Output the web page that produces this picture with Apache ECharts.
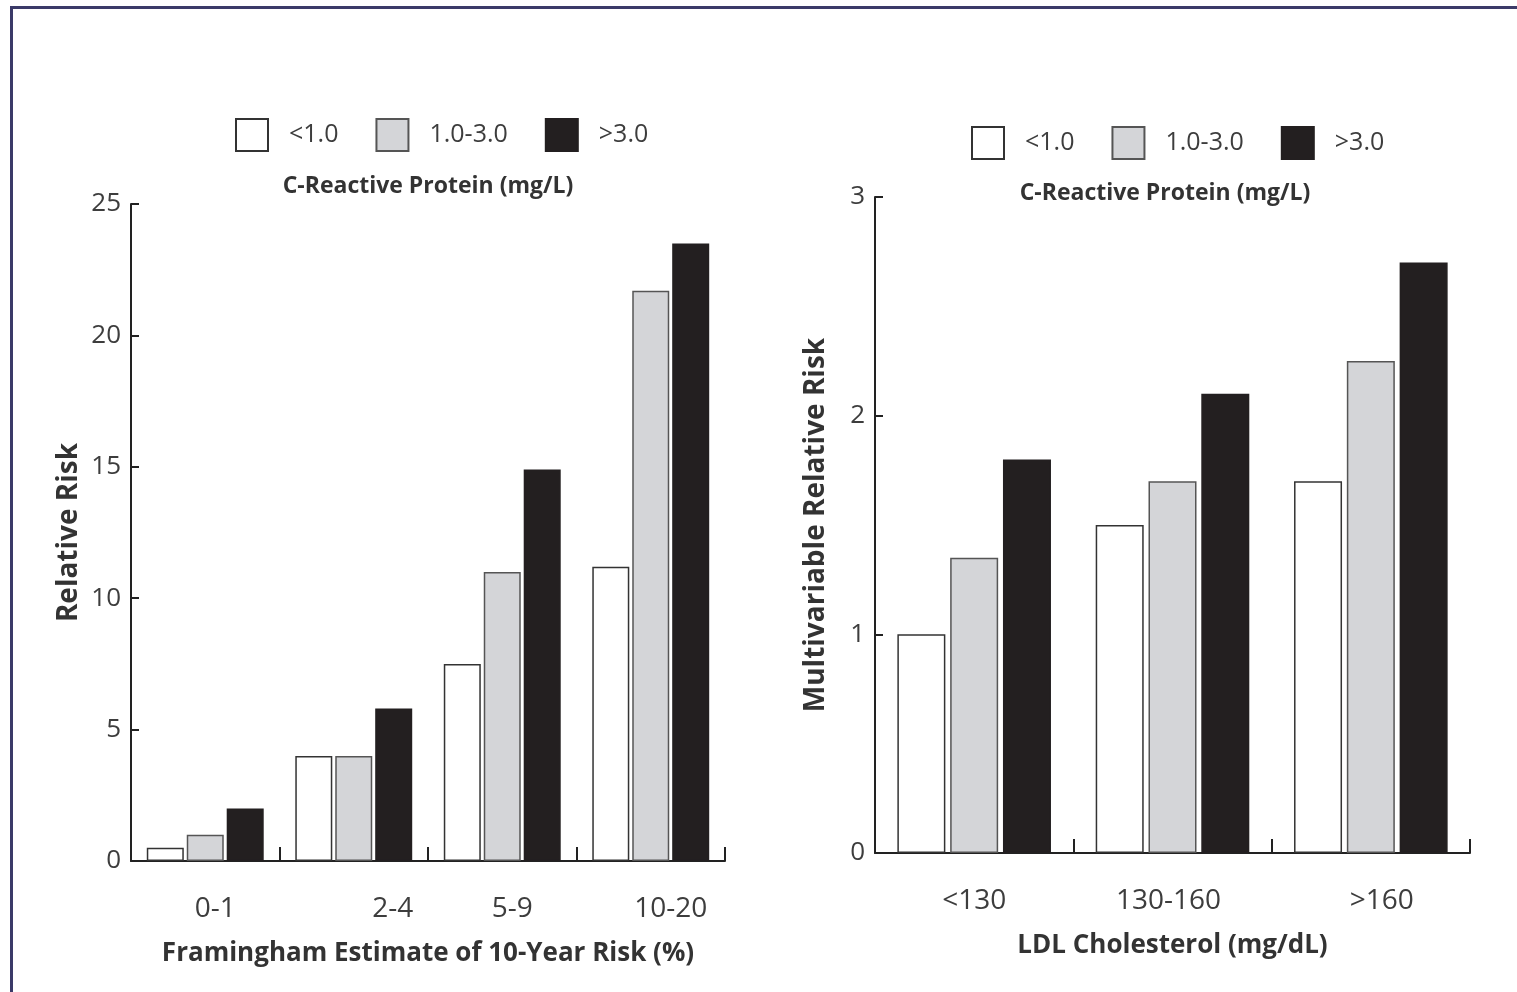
<!DOCTYPE html>
<html>
<head>
<meta charset="utf-8">
<script src="https://cdn.jsdelivr.net/npm/echarts@6/dist/echarts.min.js"></script>
<style>
  html, body { margin: 0; padding: 0; background: #ffffff; }
  #chart { position: absolute; left: 0; top: 0; width: 1517px; height: 992px; }
  #frame { position: absolute; left: 10px; top: 6px; right: 0; bottom: 0;
           border-left: 3px solid #3b3a68; border-top: 3px solid #3b3a68; pointer-events: none; }
</style>
</head>
<body>
<div id="chart"></div>
<div id="frame"></div>
<script>
// ---- data ----
const crpLevels = ['<1.0', '1.0-3.0', '>3.0'];
const framinghamCategories = ['0-1', '2-4', '5-9', '10-20'];
const framLow  = [0.5, 4.0, 7.5, 11.2];
const framMid  = [1.0, 4.0, 11.0, 21.7];
const framHigh = [2.0, 5.8, 14.9, 23.5];

const ldlCategories = ['<130', '130-160', '>160'];
const ldlLow  = [1.0, 1.5, 1.7];
const ldlMid  = [1.35, 1.7, 2.25];
const ldlHigh = [1.8, 2.1, 2.7];

// ---- styles ----
const FONT = 'Open Sans';
const TXT = '#333333';
const LBL = '#3d3d3d';
const fills   = ['#ffffff', '#d4d5d8', '#231f20'];
const borders = ['#333333', '#555555', '#231f20'];

const chart = echarts.init(document.getElementById('chart'), null, { renderer: 'canvas' });

function yAxis(gridIndex, max, interval, name, gap) {
  return {
    type: 'value', gridIndex, min: 0, max, interval,
    name, nameLocation: 'middle', nameRotate: 90, nameGap: gap,
    nameTextStyle: { fontFamily: FONT, fontSize: 28, fontWeight: 'bold', color: TXT },
    axisLine: { show: true, lineStyle: { color: '#222', width: 2 } },
    axisTick: { show: true, inside: true, length: 8, lineStyle: { color: '#222', width: 2 } },
    axisLabel: { fontFamily: FONT, fontSize: 26, color: LBL, margin: 10 },
    splitLine: { show: false }
  };
}

function xAxis(gridIndex, data, name, rich, fmt) {
  return {
    type: 'category', gridIndex, data,
    name, nameLocation: 'middle', nameGap: 80,
    nameTextStyle: { fontFamily: FONT, fontSize: 26, fontWeight: 'bold', color: TXT },
    axisLine: { show: true, lineStyle: { color: '#222', width: 2 } },
    axisTick: { show: true, inside: true, length: 14, alignWithLabel: false, lineStyle: { color: '#222', width: 2 } },
    axisLabel: { interval: 0, fontFamily: FONT, fontSize: 28, color: LBL, margin: 34, rich, formatter: fmt },
    splitLine: { show: false }
  };
}

function barSeries(name, idx, axisIdx, data, width, gap) {
  return {
    name, type: 'bar', xAxisIndex: axisIdx, yAxisIndex: axisIdx, data,
    barWidth: width, barGap: gap, barCategoryGap: '20%',
    itemStyle: { color: fills[idx], borderColor: borders[idx], borderWidth: 1.5 },
    emphasis: { disabled: true }
  };
}

const lblStyle = (l, r) => ({ fontFamily: FONT, fontSize: 28, color: LBL, padding: [0, r, 0, l] });
const leftRich = { c0: lblStyle(20, 0), c1: lblStyle(78, 0), c2: lblStyle(20, 0), c3: lblStyle(40, 0) };
const rightRich = { c0: lblStyle(0, 0), c1: lblStyle(0, 8), c2: lblStyle(22, 0) };
const richFmt = (v, i) => '{c' + i + '|' + v + '}';

function legend(left, top) {
  return {
    data: crpLevels, left, top, orient: 'horizontal', padding: 0,
    icon: 'rect', itemWidth: 32, itemHeight: 32, itemGap: 37,
    selectedMode: false,
    textStyle: { fontFamily: FONT, fontSize: 25, color: LBL, padding: [0, 0, 0, 16] }
  };
}

const option = {
  backgroundColor: '#ffffff',
  animation: false,
  title: [
    { text: 'C-Reactive Protein (mg/L)', left: 428, top: 175, textAlign: 'center', padding: 0,
      textStyle: { fontFamily: FONT, fontSize: 23, fontWeight: 'bold', color: TXT } },
    { text: 'C-Reactive Protein (mg/L)', left: 1165, top: 182, textAlign: 'center', padding: 0,
      textStyle: { fontFamily: FONT, fontSize: 23, fontWeight: 'bold', color: TXT } }
  ],
  legend: [legend(235, 118), legend(971, 126)],
  grid: [
    { left: 131, top: 204, width: 594, height: 657 },
    { left: 875, top: 197, width: 595, height: 656 }
  ],
  xAxis: [
    xAxis(0, framinghamCategories, 'Framingham Estimate of 10-Year Risk (%)', leftRich, richFmt),
    xAxis(1, ldlCategories, 'LDL Cholesterol (mg/dL)', rightRich, richFmt)
  ],
  yAxis: [
    yAxis(0, 25, 5, 'Relative Risk', 48),
    yAxis(1, 3, 1, 'Multivariable Relative Risk', 45)
  ],
  series: [
    barSeries(crpLevels[0], 0, 0, framLow, 37, '8%'),
    barSeries(crpLevels[1], 1, 0, framMid, 37, '8%'),
    barSeries(crpLevels[2], 2, 0, framHigh, 37, '8%'),
    barSeries(crpLevels[0], 0, 1, ldlLow, 48, '10%'),
    barSeries(crpLevels[1], 1, 1, ldlMid, 48, '10%'),
    barSeries(crpLevels[2], 2, 1, ldlHigh, 48, '10%')
  ]
};
chart.setOption(option);
</script>
</body>
</html>
